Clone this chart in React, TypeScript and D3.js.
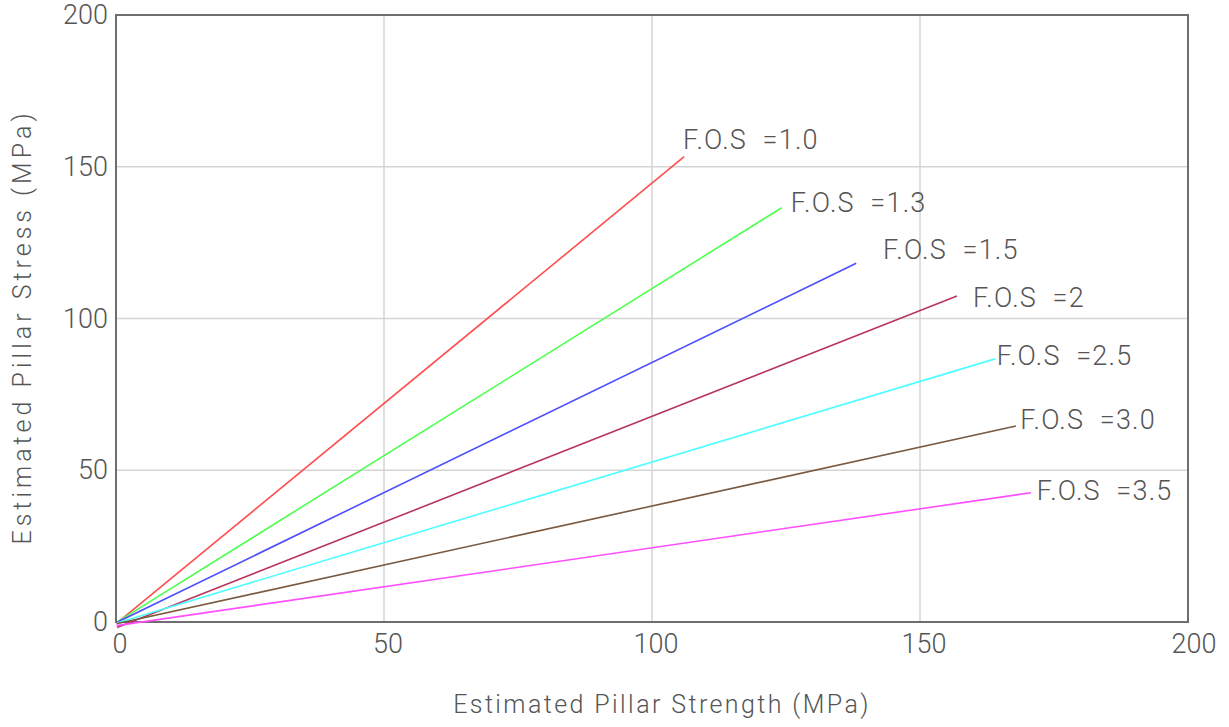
import * as d3 from "d3";

// chart values
const fosLabels = ["F.O.S  =1.0", "F.O.S  =1.3", "F.O.S  =1.5", "F.O.S  =2", "F.O.S  =2.5", "F.O.S  =3.0", "F.O.S  =3.5"];
const lineColors = ["#ff4d4d", "#4dff4d", "#4d4dff", "#b8365e", "#4dffff", "#7a5a40", "#ff4dff"];
const startX = [0.6, 0.4, 0.3, 0.2, 0.2, 0.1, 0.1];
const startY = [0.3, 0.2, 0, -1.8, -0.3, -0.6, -1.2];
const endX = [106.0, 124.2, 138.1, 156.9, 164.0, 167.9, 170.7];
const endY = [153.3, 136.5, 118.2, 107.4, 86.7, 64.6, 42.6];
// label anchors (data units: left edge, baseline)
const labelX = [105.8, 125.9, 143.1, 159.9, 164.3, 168.7, 171.8];
const labelY = [155.8, 135.2, 119.5, 103.9, 84.7, 63.5, 40.2];
const xTicks = [0, 50, 100, 150, 200];
const yTicks = [0, 50, 100, 150, 200];

const W = 1229;
const H = 727;
const margin = { top: 15, right: 41, bottom: 105, left: 116 };
const font = "Roboto, 'DejaVu Sans', sans-serif";
const textColor = "#555";

export default function App() {
    const x = d3.scaleLinear().domain([0, 200]).range([margin.left, W - margin.right]);
    const y = d3.scaleLinear().domain([0, 200]).range([H - margin.bottom, margin.top]);
    const line = d3.line<[number, number]>().x(d => x(d[0])).y(d => y(d[1]));

    return (
        <svg width={W} height={H} style={{ position: "absolute", left: 0, top: 0, background: "#fff" }}>
            {/* grid */}
            {xTicks.slice(1, -1).map(t => (
                <line key={"gx" + t} x1={x(t)} x2={x(t)} y1={y(0)} y2={y(200)} stroke="#d4d4d4" strokeWidth={1.5} />
            ))}
            {yTicks.slice(1, -1).map(t => (
                <line key={"gy" + t} x1={x(0)} x2={x(200)} y1={y(t)} y2={y(t)} stroke="#d4d4d4" strokeWidth={1.5} />
            ))}
            {/* frame */}
            <rect x={x(0)} y={y(200)} width={x(200) - x(0)} height={y(0) - y(200)} fill="none" stroke="#6e6e6e" strokeWidth={2} />

            {/* F.O.S lines */}
            {fosLabels.map((_, i) => (
                <path key={"l" + i} d={line([[startX[i], startY[i]], [endX[i], endY[i]]]) || ""} stroke={lineColors[i]} strokeWidth={1.6} fill="none" />
            ))}
            {fosLabels.map((lab, i) => (
                <text key={"t" + i} x={x(labelX[i])} y={y(labelY[i])} fontFamily={font} fontWeight={300} fontSize={27} fill={textColor} style={{ whiteSpace: "pre" }} letterSpacing={1.2}>
                    {lab}
                </text>
            ))}

            {/* tick labels */}
            {xTicks.map(t => (
                <text key={"xt" + t} x={x(t) + (t === 200 ? 6 : 4)} y={y(0) + 31} textAnchor="middle" fontFamily={font} fontWeight={300} fontSize={27} fill={textColor}>
                    {t}
                </text>
            ))}
            {yTicks.map(t => (
                <text key={"yt" + t} x={x(0) - 8} y={y(t) + 9} textAnchor="end" fontFamily={font} fontWeight={300} fontSize={27} fill={textColor}>
                    {t}
                </text>
            ))}

            {/* axis titles */}
            <text x={662} y={713} textAnchor="middle" fontFamily={font} fontWeight={300} fontSize={25} fill={textColor} letterSpacing={2.4}>
                Estimated Pillar Strength (MPa)
            </text>
            <text transform={`translate(31,${327}) rotate(-90)`} textAnchor="middle" fontFamily={font} fontWeight={300} fontSize={25} fill={textColor} letterSpacing={4}>
                Estimated Pillar Stress (MPa)
            </text>
        </svg>
    );
}
